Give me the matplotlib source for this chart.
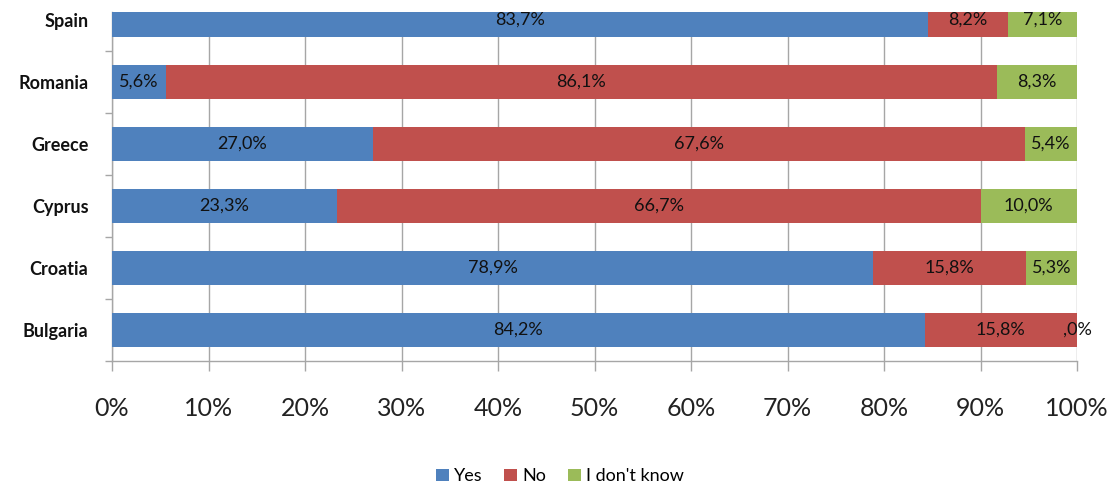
import matplotlib
matplotlib.use('Agg')
import matplotlib.pyplot as plt
import numpy as np

# Survey answers per country (percent), listed bottom to top
countries = ['Bulgaria', 'Croatia', 'Cyprus', 'Greece', 'Romania', 'Spain']
yes_pct   = [84.2, 78.9, 23.3, 27.0, 5.6, 83.7]
no_pct    = [15.8, 15.8, 66.7, 67.6, 86.1, 8.2]
dk_pct    = [0.0, 5.3, 10.0, 5.4, 8.3, 7.1]
answers   = ['Yes', 'No', "I don't know"]
x_ticks   = [0, 10, 20, 30, 40, 50, 60, 70, 80, 90, 100]

COLORS = ['#4F81BD', '#C0504D', '#9BBB59']
GRID = '#A6A6A6'

plt.rcParams['font.family'] = ['Lato', 'DejaVu Sans']


def pct_label(v):
    # "#,0%" style: decimal comma, no leading zero
    whole, frac = f'{v:.1f}'.split('.')
    if whole == '0':
        whole = ''
    return f'{whole},{frac}%'


fig = plt.figure(figsize=(11.12, 4.87), dpi=100)
W, H = 1112, 487
# plot area in pixels: x 112..1077, y 12..361 (from top)
ax = fig.add_axes([112 / W, 1 - 361 / H, (1077 - 112) / W, (361 - 12) / H])

series = np.array([yes_pct, no_pct, dk_pct])
shares = series / series.sum(axis=0) * 100   # 100% stacked
y = np.arange(len(countries))
left = np.zeros(len(countries))
for k in range(3):
    ax.barh(y, shares[k], left=left, height=0.55, color=COLORS[k],
            label=answers[k], zorder=3)
    for i in range(len(countries)):
        ax.text(left[i] + shares[k][i] / 2, y[i], pct_label(series[k][i]),
                ha='center', va='center', fontsize=13, color='#111111',
                zorder=5, clip_on=False)
    left += shares[k]

ax.set_xlim(0, 100)
ax.set_ylim(-0.5, 5.13)

ax.set_xticks(x_ticks)
ax.set_xticklabels([f'{t}%' for t in x_ticks], fontsize=18, color='#222222')
ax.tick_params(axis='x', length=7, width=1, color=GRID, pad=19)
ax.grid(axis='x', color=GRID, lw=1, zorder=0)

ax.set_yticks(y)
ax.set_yticklabels(countries, fontsize=13, fontweight='bold', color='#111111')
ax.tick_params(axis='y', which='major', length=0, pad=17)
ax.set_yticks(np.arange(-0.5, 5.0, 1.0), minor=True)
ax.tick_params(axis='y', which='minor', length=5, width=1, color=GRID)

for side in ['top', 'right']:
    ax.spines[side].set_visible(False)
for side in ['left', 'bottom']:
    ax.spines[side].set_color(GRID)
    ax.spines[side].set_linewidth(1)

fig.legend(loc='upper center', bbox_to_anchor=(560 / W, 1 - 452 / H),
           ncol=3, frameon=False, fontsize=13, handlelength=0.7,
           handleheight=0.7, handletextpad=0.3, columnspacing=1.2)

fig.savefig('out.png', dpi=100)
